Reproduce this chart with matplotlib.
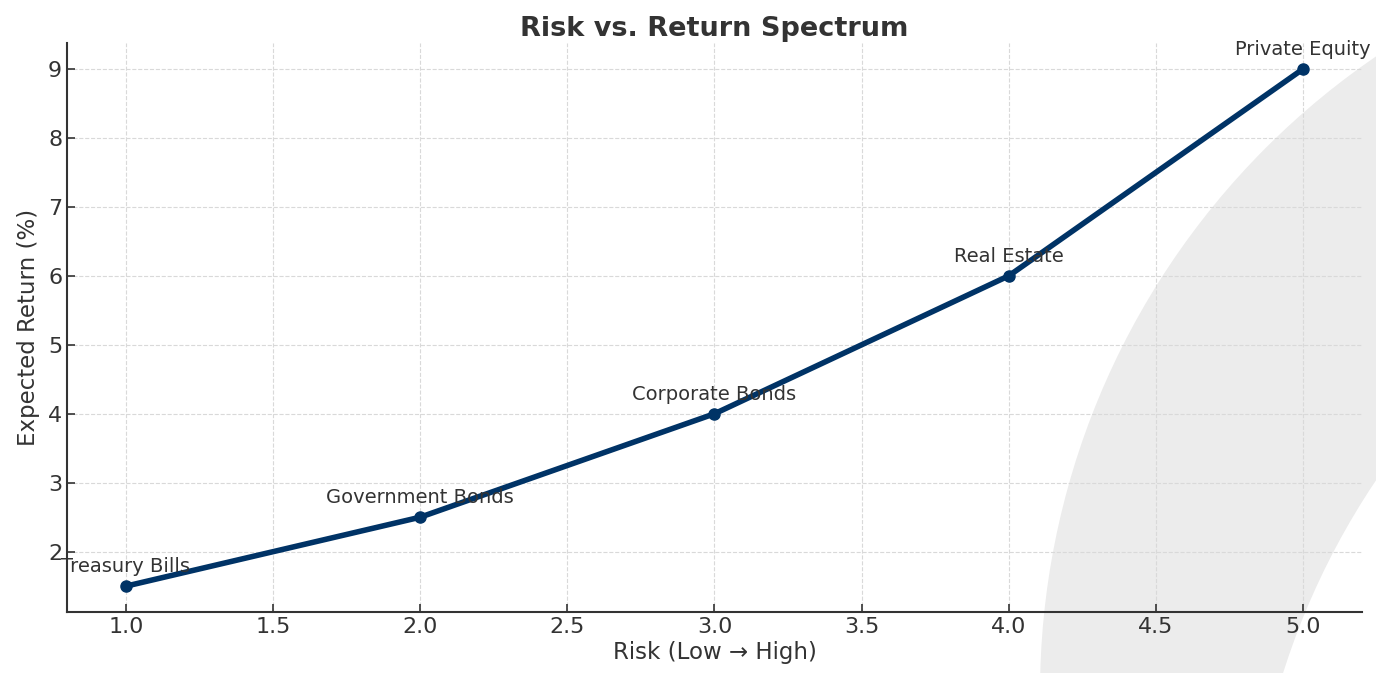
import matplotlib
matplotlib.use("Agg")
import matplotlib.pyplot as plt
from matplotlib.patches import Circle

assets = ["Treasury Bills", "Government Bonds", "Corporate Bonds", "Real Estate", "Private Equity"]
risk = [1, 2, 3, 4, 5]
ret = [1.5, 2.5, 4, 6, 9]

fig = plt.figure(figsize=(13.76, 6.73), dpi=100)
fig.patch.set_facecolor("white")

# light grey swoosh in the lower right corner (behind the axes)
outer = Circle((18.11, -0.20), 7.71, transform=fig.dpi_scale_trans,
               facecolor="#ececec", edgecolor="none", zorder=0)
inner = Circle((20.00, -2.27), 7.52, transform=fig.dpi_scale_trans,
               facecolor="white", edgecolor="none", zorder=0.5)
fig.patches.extend([outer, inner])

ax = fig.add_axes([0.0487, 0.0906, 0.9411, 0.8454])
ax.set_facecolor("none")
ax.set_zorder(2)

ax.plot(risk, ret, color="#003366", lw=4, marker="o", markersize=8, zorder=3)
for x, y, name in zip(risk, ret, assets):
    ax.annotate(name, (x, y), xytext=(0, 10), textcoords="offset points",
                ha="center", fontsize=14, color="#333333")

ax.set_title("Risk vs. Return Spectrum", fontsize=19.5, fontweight="bold",
             color="#333333", pad=5)
ax.set_xlabel("Risk (Low → High)", fontsize=16.5, color="#333333", labelpad=3)
ax.set_ylabel("Expected Return (%)", fontsize=16.5, color="#333333", labelpad=6)

ax.grid(True, linestyle="--", color="#d9d9d9", linewidth=0.8)
ax.spines["top"].set_visible(False)
ax.spines["right"].set_visible(False)
for s in ("left", "bottom"):
    ax.spines[s].set_color("#333333")
    ax.spines[s].set_linewidth(1.5)
ax.tick_params(direction="in", labelsize=16, colors="#333333", length=6, width=1.2)

fig.savefig("out.png", dpi=100)
